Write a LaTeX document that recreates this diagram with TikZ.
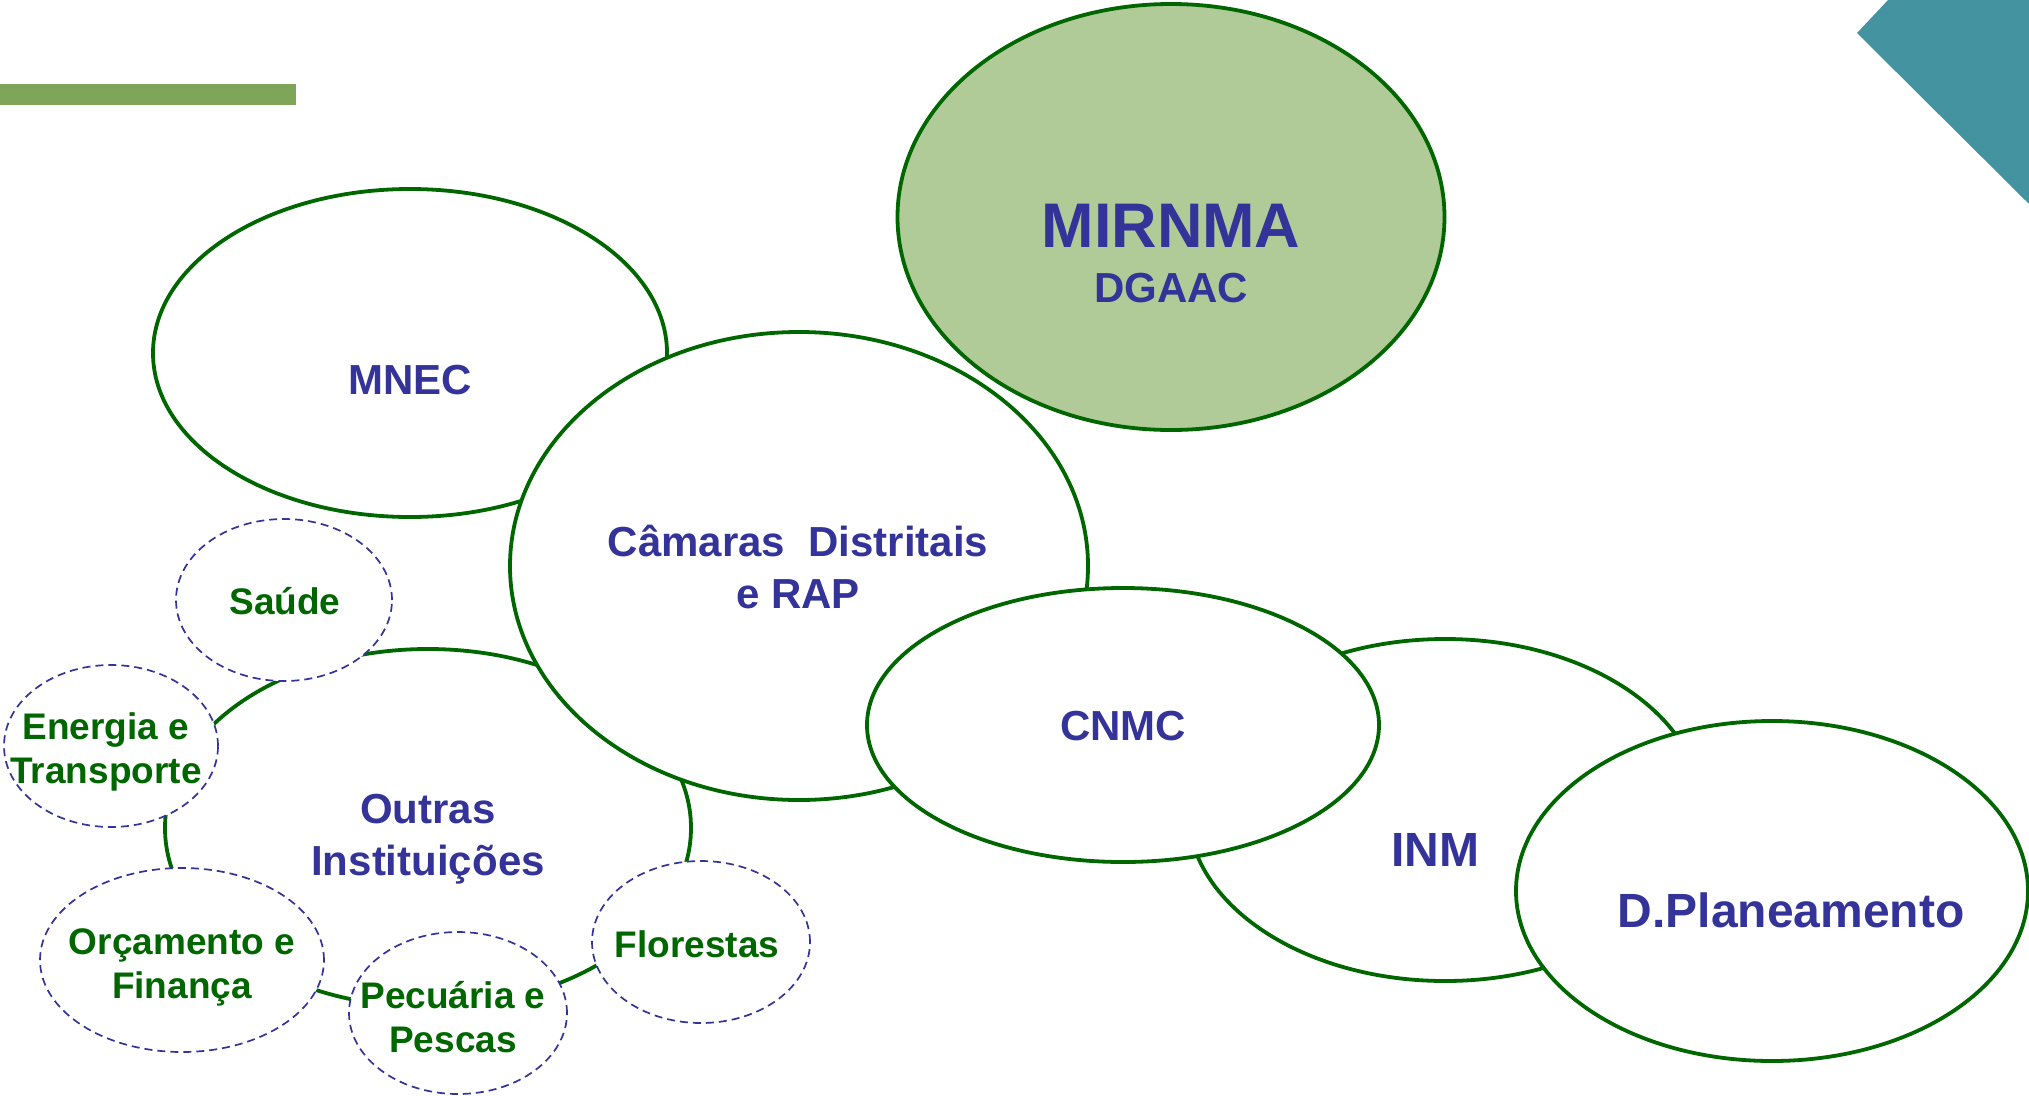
\documentclass[tikz,border=0pt]{standalone}
\usepackage{fontspec}
\setmainfont{Liberation Sans}
\usetikzlibrary{shapes.geometric}
\definecolor{dkgreen}{HTML}{006600}
\definecolor{navy}{HTML}{333399}
\definecolor{lgreen}{HTML}{B0CB98}
\definecolor{barg}{HTML}{7FA658}
\definecolor{tealc}{HTML}{4394A0}
\begin{document}
\begin{tikzpicture}[x=1pt,y=-1pt,
 org/.style={ellipse, draw=dkgreen, line width=3.8pt, fill=white, inner sep=0pt, outer sep=0pt},
 sub/.style={ellipse, draw=navy, line width=1.7pt, dash pattern=on 8pt off 5pt, fill=white, inner sep=0pt, outer sep=0pt},
 bluetext/.style={text=navy, font=\bfseries\fontsize{42}{52}\selectfont, align=center, inner sep=0pt},
 greentext/.style={text=dkgreen, font=\bfseries\fontsize{37}{44}\selectfont, align=center, inner sep=0pt}]
\useasboundingbox (0,0) rectangle (2029,1095);
% decorations
\fill[barg] (0,84) rectangle (296,105);
\fill[tealc] (1888,0) -- (2029,0) -- (2029,204) -- (1857,33) -- cycle;
% main ellipses
\node[org, minimum width=514pt, minimum height=328pt] (mnec) at (410,353) {};
\node[org, minimum width=526pt, minimum height=358pt] (outras) at (428,828) {};
\node[org, minimum width=578pt, minimum height=468pt] (camaras) at (799,566) {};
\node[org, minimum width=514pt, minimum height=342pt] (inm) at (1445,810) {};
\node[org, minimum width=512pt, minimum height=274pt] (cnmc) at (1123,725) {};
\node[org, minimum width=512pt, minimum height=340pt] (dplan) at (1772,891) {};
\node[org, fill=lgreen, minimum width=547pt, minimum height=426pt] (mirnma) at (1171,217) {};
% sub ellipses
\node[sub, minimum width=216pt, minimum height=162pt] (saude) at (284,600) {};
\node[sub, minimum width=214pt, minimum height=162pt] (energia) at (111,746) {};
\node[sub, minimum width=284pt, minimum height=184pt] (orcamento) at (182,960) {};
\node[sub, minimum width=218pt, minimum height=162pt] (pecuaria) at (458,1013) {};
\node[sub, minimum width=218pt, minimum height=162pt] (florestas) at (701,942) {};
% texts
\node[bluetext, font=\bfseries\fontsize{63}{70}\selectfont] (tmirnma) at (1171,226) {MIRNMA};
\node[bluetext] (tdgaac) at (1171,288) {DGAAC};
\node[bluetext] (tmnec) at (410,380) {MNEC};
\node[bluetext] (tcamaras) at (798,567) {Câmaras\ \ Distritais\\e RAP};
\node[bluetext] (toutras) at (428,839) {Outras\\Instituições};
\node[bluetext] (tcnmc) at (1123,726) {CNMC};
\node[bluetext, font=\bfseries\fontsize{48}{56}\selectfont] (tinm) at (1435,850) {INM};
\node[bluetext, font=\bfseries\fontsize{48}{56}\selectfont] (tdplan) at (1791,910) {D.Planeamento};
\node[greentext] (tsaude) at (285,601) {Saúde};
\node[greentext] (tenergia) at (106,752) {Energia e\\Transporte};
\node[greentext] (torcamento) at (182,967) {Orçamento e\\Finança};
\node[greentext] (tpecuaria) at (453,1017) {Pecuária e\\Pescas};
\node[greentext] (tflorestas) at (697,944) {Florestas};
\end{tikzpicture}
\end{document}
